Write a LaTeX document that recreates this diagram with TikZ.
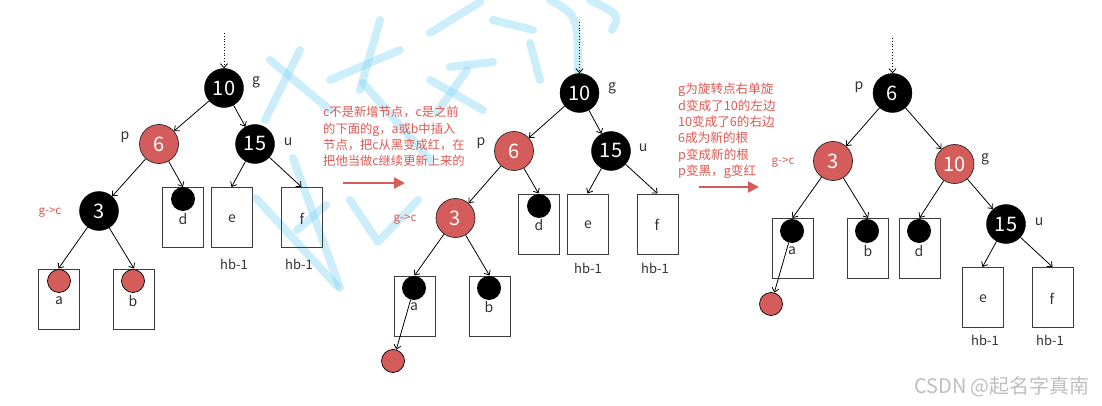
\documentclass[tikz,border=0pt]{standalone}
\usepackage{fontspec}
\setmainfont{Noto Sans CJK SC}
\usetikzlibrary{arrows.meta}
\definecolor{rf}{RGB}{212,93,91}
\definecolor{rt}{RGB}{222,88,82}
\definecolor{bx}{RGB}{60,60,60}
\definecolor{lb}{RGB}{50,50,50}
\definecolor{wm}{RGB}{141,217,245}
\definecolor{csdn}{RGB}{190,190,190}
\begin{document}
\begin{tikzpicture}[x=1pt,y=-1pt,
 bigb/.style={circle, fill=black, draw=black, minimum size=39pt, inner sep=0, text=white, font=\fontsize{20}{20}\selectfont},
 bigr/.style={bigb, fill=rf, draw=black!85, line width=0.7pt},
 smb/.style={circle, fill=black, minimum size=24pt, inner sep=0},
 smr/.style={circle, fill=rf, draw=black, line width=0.7pt, minimum size=23pt, inner sep=0},
 leaf/.style={rectangle, draw=bx, line width=1pt, minimum width=41pt, minimum height=60pt, inner sep=0},
 lab/.style={text=lb, font=\fontsize{14}{14}\selectfont, inner sep=0},
 hb/.style={text=lb, font=\fontsize{13}{13}\selectfont, inner sep=0},
 gc/.style={text=rt, font=\fontsize{11.5}{12}\selectfont, inner sep=0},
 edge/.style={-{Straight Barb[length=4pt,width=7pt]}, line width=0.8pt},
 dotarrow/.style={edge, dotted},
 note/.style={text=rt, align=left, anchor=west, inner sep=0, font=\fontsize{12.3}{16.3}\selectfont},
 bigarrow/.style={draw=rf, line width=2.2pt, -{Triangle[length=11pt,width=11pt]}},
 wmark/.style={draw=wm, opacity=0.45, line width=8pt, line cap=round, line join=round}
]
\useasboundingbox (0,0) rectangle (1102,406);

% ---------------- watermark strokes (background) ----------------
\draw[wmark] (256,198) -- (337,286);
\draw[wmark] (293,158) -- (340,288);
\draw[wmark] (297,230) -- (326,205);
\draw[wmark] (350,200) -- (378,242) -- (418,200);
\draw[wmark] (363,83) -- (430,160);
\draw[wmark] (330,80) -- (400,50);
\draw[wmark] (380,20) -- (360,90);
\draw[wmark] (430,33) -- (480,2);
\draw[wmark] (450,67) -- (493,62);
\draw[wmark] (430,80) -- (483,110);
\draw[wmark] (467,70) -- (437,112);
\draw[wmark] (493,20) -- (533,30);
\draw[wmark] (530,43) -- (540,80);
\draw[wmark] (550,0) .. controls (578,15) .. (578,80);
\draw[wmark] (590,0) .. controls (620,15) .. (612,30);
\draw[wmark] (270,60) -- (330,110);
\draw[wmark] (300,50) -- (265,120);

% ---------------- left tree ----------------
\coordinate (Ltop) at (224,33);
\node[bigb] (L10) at (224,88) {10};
\node[bigr] (L6) at (159,144) {6};
\node[bigb] (L15) at (255,144) {15};
\node[bigb] (L3) at (99,211) {3};
\node[leaf] (La) at (58.5,299) {};
\node[leaf] (Lb) at (134,299) {};
\node[leaf] (Ld) at (183,217.5) {};
\node[leaf] (Le) at (231.5,217.5) {};
\node[leaf] (Lf) at (301.5,217.5) {};
\node[smr] (Lac) at (59,281) {};
\node[smr] (Lbc) at (133,281) {};
\node[smb] (Ldc) at (183,199) {};
\node[lab] (Lal) at (59,301) {a};
\node[lab] (Lbl) at (133,301) {b};
\node[lab] (Ldl) at (183,219) {d};
\node[lab] (Lel) at (232,219) {e};
\node[lab] (Lfl) at (302,219) {f};
\node[hb] (Lh1) at (234,264) {hb-1};
\node[hb] (Lh2) at (299,264) {hb-1};
\node[lab] (Lg) at (256,82) {g};
\node[lab] (Lp) at (125,137) {p};
\node[lab] (Lu) at (288,142) {u};
\node[gc] (Lgc) at (50,213) {g->c};
\draw[dotarrow] (Ltop) -- (L10);
\draw[edge] (L10) -- (L6);
\draw[edge] (L10) -- (L15);
\draw[edge] (L6) -- (L3);
\draw[edge] (L6) -- (Ld.north);
\draw[edge] (L15) -- (Le.north);
\draw[edge] (L15) -- (Lf.north);
\draw[edge] (L3) -- (La.north);
\draw[edge] (L3) -- (Lb.north);

% ---------------- middle note ----------------
\node[note] (N1) at (323,136.5) {c不是新增节点，c是之前\\的下面的g，a或b中插入\\节点，把c从黑变成红，在\\把他当做c继续更新上来的};
\coordinate (A1s) at (343,183);
\coordinate (A1e) at (405,183);
\draw[bigarrow] (A1s) -- (A1e);

% ---------------- middle tree ----------------
\coordinate (Mtop) at (579.5,22);
\node[bigb] (M10) at (579.5,93) {10};
\node[bigr] (M6) at (514,151) {6};
\node[bigb] (M15) at (611,151) {15};
\node[bigr] (M3) at (455.5,218) {3};
\node[leaf] (Md) at (538.5,224) {};
\node[leaf] (Me) at (587.5,224) {};
\node[leaf] (Mf) at (657.5,224) {};
\node[leaf] (Ma) at (414.5,306) {};
\node[leaf] (Mb) at (489.5,306) {};
\node[smb] (Mdc) at (539,206) {};
\node[smb] (Mac) at (414,288) {};
\node[smb] (Mbc) at (489,288) {};
\node[smr] (Mr) at (393,361) {};
\node[lab] (Mdl) at (539,225) {d};
\node[lab] (Mel) at (588,225) {e};
\node[lab] (Mfl) at (657,225) {f};
\node[lab] (Mal) at (414,307) {a};
\node[lab] (Mbl) at (489,307) {b};
\node[hb] (Mh1) at (588,268) {hb-1};
\node[hb] (Mh2) at (655,268) {hb-1};
\node[lab] (Mg) at (612,88) {g};
\node[lab] (Mp) at (481,143) {p};
\node[lab] (Mu) at (643,148) {u};
\node[gc] (Mgc) at (405,220) {g->c};
\draw[dotarrow] (Mtop) -- (M10);
\draw[edge] (M10) -- (M6);
\draw[edge] (M10) -- (M15);
\draw[edge] (M6) -- (M3);
\draw[edge] (M6) -- (Md.north);
\draw[edge] (M15) -- (Me.north);
\draw[edge] (M15) -- (Mf.north);
\draw[edge] (M3) -- (Ma.north);
\draw[edge] (M3) -- (Mb.north);
\draw[edge] (Mac) -- (Mr);

% ---------------- right note ----------------
\node[note, font=\fontsize{12.6}{16.4}\selectfont] (N2) at (678,131) {g为旋转点右单旋\\d变成了10的左边\\10变成了6的右边\\6成为新的根\\p变成新的根\\p变黑，g变红};
\coordinate (A2s) at (699,187);
\coordinate (A2e) at (759,187);
\draw[bigarrow] (A2s) -- (A2e);

% ---------------- right tree ----------------
\coordinate (Rtop) at (892.5,38);
\node[bigb] (R6) at (892.5,93) {6};
\node[bigr] (R3) at (833,161) {3};
\node[bigr] (R10) at (954.5,164) {10};
\node[bigb] (R15) at (1006,224) {15};
\node[leaf] (Ra) at (792.5,248.5) {};
\node[leaf] (Rb) at (868,248.5) {};
\node[leaf] (Rd) at (919.5,248.5) {};
\node[leaf] (Re) at (982.5,297.5) {};
\node[leaf] (Rf) at (1052.5,297.5) {};
\node[smb] (Rac) at (792,231) {};
\node[smb] (Rbc) at (867,231) {};
\node[smb] (Rdc) at (919,231) {};
\node[smr] (Rr) at (771,304) {};
\node[lab] (Ral) at (792,251) {a};
\node[lab] (Rbl) at (868,251) {b};
\node[lab] (Rdl) at (919,251) {d};
\node[lab] (Rel) at (983,299) {e};
\node[lab] (Rfl) at (1052,299) {f};
\node[hb] (Rh1) at (985,340) {hb-1};
\node[hb] (Rh2) at (1050,340) {hb-1};
\node[lab] (Rp) at (859,87) {p};
\node[lab] (Rg) at (985,159) {g};
\node[lab] (Ru) at (1039,222) {u};
\node[gc] (Rgc) at (783,163) {g->c};
\draw[dotarrow] (Rtop) -- (R6);
\draw[edge] (R6) -- (R3);
\draw[edge] (R6) -- (R10);
\draw[edge] (R3) -- (Ra.north);
\draw[edge] (R3) -- (Rb.north);
\draw[edge] (R10) -- (Rd.north);
\draw[edge] (R10) -- (R15);
\draw[edge] (R15) -- (Re.north);
\draw[edge] (R15) -- (Rf.north);
\draw[edge] (Rac) -- (Rr);

% ---------------- CSDN mark ----------------
\node[text=csdn, font=\fontsize{20}{20}\selectfont, inner sep=0] (csdn) at (1002,387) {CSDN @起名字真南};
\end{tikzpicture}
\end{document}
